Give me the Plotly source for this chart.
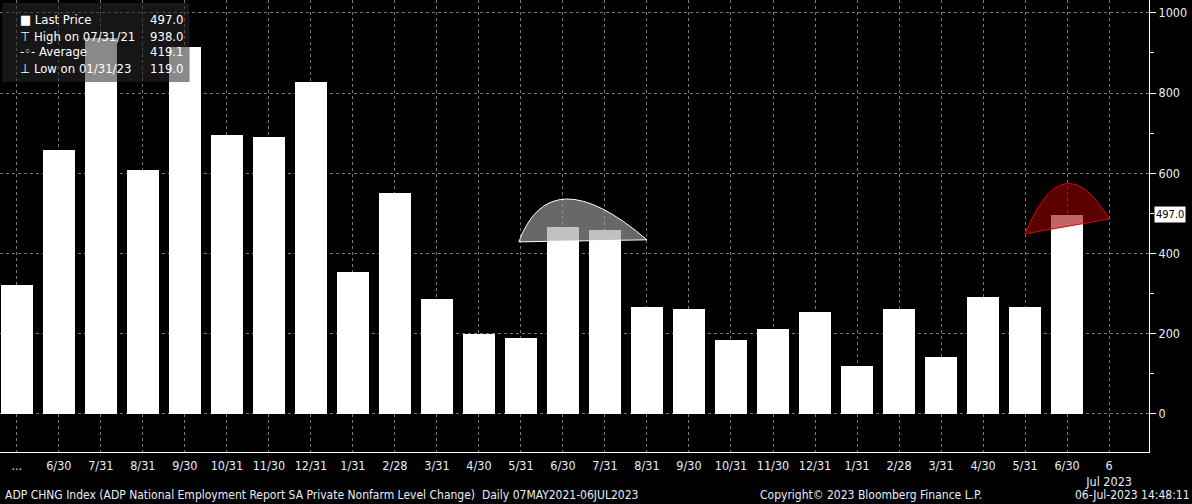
import plotly.graph_objects as go

labels = ["...", "6/30", "7/31", "8/31", "9/30", "10/31", "11/30", "12/31", "1/31", "2/28", "3/31", "4/30", "5/31",
          "6/30", "7/31", "8/31", "9/30", "10/31", "11/30", "12/31", "1/31", "2/28", "3/31", "4/30", "5/31", "6/30", "6<br>Jul 2023"]
values = [322, 658, 938, 608, 915, 696, 691, 828, 354, 551, 287, 200, 190,
          466, 459, 267, 262, 185, 212, 254, 119, 262, 142, 292, 267, 497]
xs = list(range(len(values)))
ticks = list(range(len(labels)))

fig = go.Figure()
fig.add_bar(x=xs, y=values, width=0.76, marker=dict(color="white", line_width=0), hoverinfo="skip")

grid = "rgba(200,200,200,0.6)"
fig.update_layout(
    width=1192, height=504, paper_bgcolor="black", plot_bgcolor="black",
    margin=dict(l=0, r=43, t=0, b=52), showlegend=False, bargap=0,
    font=dict(family="DejaVu Sans Condensed, Liberation Sans", color="#e8eef8", size=12),
    xaxis=dict(range=[-0.4, 26.95], tickvals=ticks, ticktext=labels, showgrid=True, gridcolor=grid,
               griddash="dot", zeroline=False, showline=True, linecolor="white", automargin=False,
               ticks="", tickfont=dict(size=12.5), ticklabelstandoff=2),
    yaxis=dict(range=[-95, 1032], side="right", tickvals=[0, 200, 400, 600, 800, 1000], showgrid=True,
               gridcolor=grid, griddash="dot", zeroline=False, showline=True, linecolor="white", automargin=False,
               ticks="outside", ticklen=6, tickcolor="white", tickfont=dict(size=12.5),
               minor=dict(dtick=100, ticks="outside", ticklen=4, tickcolor="white", showgrid=False)),
)

def hump(x0, y0, x1, y1, cx, cy, fill, line):
    fig.add_shape(type="path", xref="x", yref="y",
                  path=f"M {x0},{y0} Q {cx},{cy} {x1},{y1} Z",
                  fillcolor=fill, line=dict(color=line, width=1), layer="above")

hump(11.95, 429, 15.0, 434, 12.7, 640, "rgba(160,160,160,0.65)", "white")
hump(24.0, 449, 26.0, 486, 24.9, 680, "rgba(150,0,0,0.6)", "#e00000")

# legend box
fig.add_shape(type="rect", xref="paper", yref="paper", x0=0.002, x1=0.165, y0=1 - 82/452, y1=1 - 3/452,
              fillcolor="rgba(40,40,40,0.55)", line_width=0, layer="above")
rows = [("■ Last Price", "497.0"), ("⊤ High on 07/31/21", "938.0"), ("-◦- Average", "419.1"), ("⊥ Low on 01/31/23", "119.0")]
for i, (a, b) in enumerate(rows):
    yy = 1 - (20 + 16 * i) / 452
    fig.add_annotation(x=0.016, y=yy, xref="paper", yref="paper", text=a, showarrow=False, xanchor="left",
                       yanchor="middle", font=dict(size=13, color="white"))
    fig.add_annotation(x=0.161, y=yy, xref="paper", yref="paper", text=b, showarrow=False, xanchor="right",
                       yanchor="middle", font=dict(size=13, color="white"))

fig.add_annotation(x=1.004, y=497, xref="paper", yref="y", text="497.0", showarrow=False, xanchor="left",
                   bgcolor="white", font=dict(size=11, color="black"), borderpad=1)

fig.add_annotation(x=0.003, y=-0.095, xref="paper", yref="paper", xanchor="left", yanchor="middle",
                   text="ADP CHNG Index (ADP National Employment Report SA Private Nonfarm Level Change)  Daily 07MAY2021-06JUL2023",
                   showarrow=False, font=dict(size=12, color="#e8eef8"))
fig.add_annotation(x=0.66, y=-0.095, xref="paper", yref="paper", xanchor="left", yanchor="middle",
                   text="Copyright© 2023 Bloomberg Finance L.P.", showarrow=False, font=dict(size=12, color="#e8eef8"))
fig.add_annotation(x=1.037, y=-0.095, xref="paper", yref="paper", xanchor="right", yanchor="middle",
                   text="06-Jul-2023 14:48:11", showarrow=False, font=dict(size=12, color="#e8eef8"))

fig.write_html("out.html", config={"displayModeBar": False},
               post_script="document.body.style.margin='0';document.body.style.background='black';")
